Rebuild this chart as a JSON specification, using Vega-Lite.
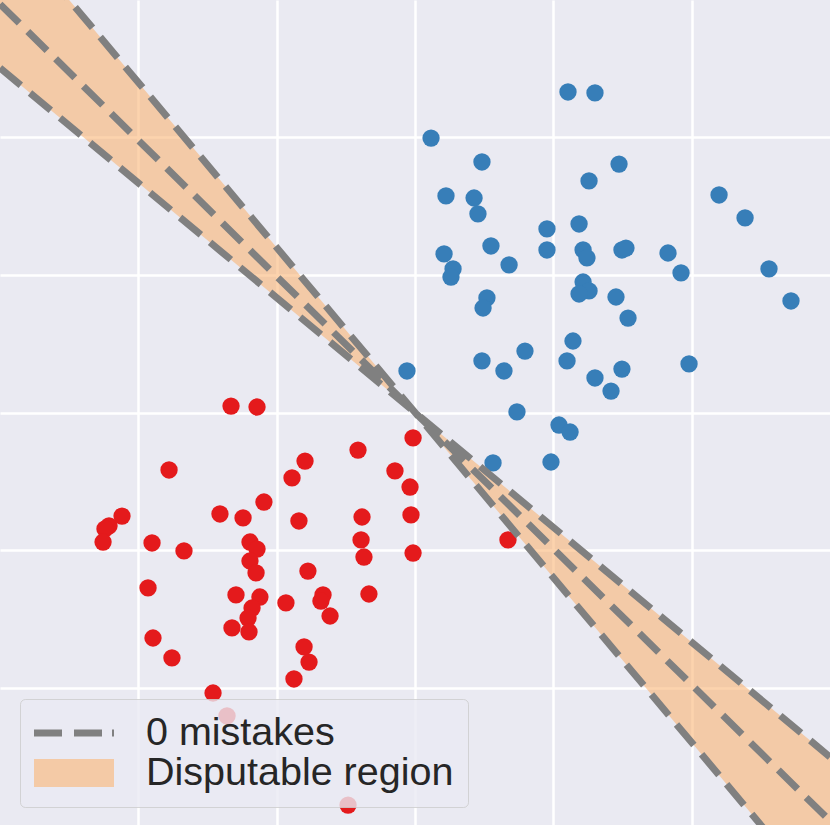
{
  "$schema": "https://vega.github.io/schema/vega-lite/v6.json",
  "width": 830,
  "height": 825,
  "autosize": {"type": "fit", "contains": "padding"},
  "padding": 0,
  "background": "#ffffff",
  "config": {
    "view": {"stroke": null, "fill": "#EAEAF2"},
    "axis": {"domain": false, "ticks": false, "labels": false, "title": null, "grid": true, "gridColor": "#ffffff", "gridWidth": 2.5, "gridOpacity": 1},
    "legend": {
      "title": null, "orient": "none", "legendX": 20, "legendY": 699,
      "fillColor": "rgba(234,234,242,0.8)", "strokeColor": "rgba(204,204,204,0.8)", "cornerRadius": 5, "padding": 14,
      "symbolSize": 1600, "symbolOpacity": 1, "symbolStrokeWidth": 0,
      "labelFontSize": 39.5, "labelFont": "Liberation Sans", "labelColor": "#262626",
      "labelOffset": 72, "labelLimit": 0, "rowPadding": -8
    }
  },
  "datasets": {
    "blue": [
      {"x": 1.106, "y": 2.331}, {"x": 1.301, "y": 2.324}, {"x": 0.116, "y": 1.996}, {"x": 0.484, "y": 1.822},
      {"x": 1.475, "y": 1.807}, {"x": 1.258, "y": 1.684}, {"x": 0.224, "y": 1.575}, {"x": 0.427, "y": 1.56},
      {"x": 2.198, "y": 1.582}, {"x": 0.455, "y": 1.444}, {"x": 2.386, "y": 1.415}, {"x": 1.186, "y": 1.371},
      {"x": 0.954, "y": 1.335}, {"x": 0.549, "y": 1.211}, {"x": 0.954, "y": 1.182}, {"x": 1.215, "y": 1.182},
      {"x": 1.243, "y": 1.124}, {"x": 0.21, "y": 1.153}, {"x": 1.496, "y": 1.182}, {"x": 1.525, "y": 1.196},
      {"x": 1.829, "y": 1.16}, {"x": 0.68, "y": 1.073}, {"x": 0.275, "y": 1.044}, {"x": 0.26, "y": 0.985},
      {"x": 1.923, "y": 1.015}, {"x": 2.559, "y": 1.044}, {"x": 1.215, "y": 0.949}, {"x": 1.258, "y": 0.884},
      {"x": 1.186, "y": 0.862}, {"x": 0.52, "y": 0.833}, {"x": 0.492, "y": 0.76}, {"x": 1.453, "y": 0.84},
      {"x": 2.718, "y": 0.811}, {"x": 1.54, "y": 0.687}, {"x": 1.142, "y": 0.52}, {"x": 0.795, "y": 0.447},
      {"x": 1.099, "y": 0.375}, {"x": 0.484, "y": 0.375}, {"x": 0.643, "y": 0.302}, {"x": -0.058, "y": 0.302},
      {"x": 1.496, "y": 0.316}, {"x": 1.981, "y": 0.353}, {"x": 1.301, "y": 0.251}, {"x": 1.417, "y": 0.156},
      {"x": 0.737, "y": 0.004}, {"x": 1.041, "y": -0.091}, {"x": 1.121, "y": -0.142}, {"x": 0.983, "y": -0.36},
      {"x": 0.564, "y": -0.367}
    ],
    "red": [
      {"x": -1.33, "y": 0.047}, {"x": -1.142, "y": 0.04}, {"x": -0.014, "y": -0.185}, {"x": -0.412, "y": -0.273},
      {"x": -0.795, "y": -0.353}, {"x": -1.778, "y": -0.418}, {"x": -0.145, "y": -0.425}, {"x": -0.889, "y": -0.476},
      {"x": -0.036, "y": -0.542}, {"x": -1.092, "y": -0.651}, {"x": -2.118, "y": -0.753}, {"x": -2.212, "y": -0.825},
      {"x": -2.241, "y": -0.847}, {"x": -2.255, "y": -0.942}, {"x": -1.41, "y": -0.738}, {"x": -1.243, "y": -0.767},
      {"x": -0.839, "y": -0.789}, {"x": -0.383, "y": -0.76}, {"x": -0.029, "y": -0.745}, {"x": -1.901, "y": -0.949},
      {"x": -1.67, "y": -1.007}, {"x": -1.193, "y": -0.942}, {"x": -1.142, "y": -0.993}, {"x": -0.39, "y": -0.927},
      {"x": -0.369, "y": -1.051}, {"x": -0.014, "y": -1.022}, {"x": 0.672, "y": -0.927}, {"x": -1.193, "y": -1.08},
      {"x": -1.149, "y": -1.167}, {"x": -0.774, "y": -1.153}, {"x": -1.93, "y": -1.276}, {"x": -1.294, "y": -1.327},
      {"x": -1.121, "y": -1.342}, {"x": -0.933, "y": -1.385}, {"x": -0.665, "y": -1.327}, {"x": -0.68, "y": -1.371},
      {"x": -0.333, "y": -1.32}, {"x": -1.178, "y": -1.422}, {"x": -1.207, "y": -1.495}, {"x": -1.323, "y": -1.567},
      {"x": -1.2, "y": -1.596}, {"x": -0.614, "y": -1.48}, {"x": -1.894, "y": -1.64}, {"x": -1.757, "y": -1.785},
      {"x": -0.802, "y": -1.705}, {"x": -0.766, "y": -1.815}, {"x": -0.875, "y": -1.938}, {"x": -1.46, "y": -2.04},
      {"x": -1.359, "y": -2.207}, {"x": -0.484, "y": -2.855}
    ],
    "region": [
      {"x": -3, "y": 3.6, "y2": 2.505},
      {"x": 0, "y": 0, "y2": 0},
      {"x": 3, "y": -3.6, "y2": -2.505}
    ],
    "lines": [
      {"line": "upper", "x": -3, "y": 3.6}, {"line": "upper", "x": 3, "y": -3.6},
      {"line": "middle", "x": -3, "y": 2.97}, {"line": "middle", "x": 3, "y": -2.97},
      {"line": "lower", "x": -3, "y": 2.505}, {"line": "lower", "x": 3, "y": -2.505}
    ],
    "legend": [
      {"item": "0 mistakes", "x": 0, "y": 0},
      {"item": "Disputable region", "x": 0, "y": 0}
    ]
  },
  "layer": [
    {
      "data": {"name": "region"},
      "mark": {"type": "area", "opacity": 0.55, "clip": true, "color": "#FAAE6A"},
      "encoding": {
        "x": {"field": "x", "type": "quantitative", "scale": {"domain": [-3, 3], "nice": false, "zero": false}, "axis": {"values": [-2, -1, 0, 1, 2]}},
        "y": {"field": "y", "type": "quantitative", "scale": {"domain": [-3, 3], "nice": false, "zero": false}, "axis": {"values": [-2, -1, 0, 1, 2]}},
        "y2": {"field": "y2"}
      }
    },
    {
      "data": {"name": "blue"},
      "mark": {"type": "circle", "size": 300, "opacity": 1, "color": "#377EB8"},
      "encoding": {
        "x": {"field": "x", "type": "quantitative"},
        "y": {"field": "y", "type": "quantitative"}
      }
    },
    {
      "data": {"name": "red"},
      "mark": {"type": "circle", "size": 300, "opacity": 1, "color": "#E41A1C"},
      "encoding": {
        "x": {"field": "x", "type": "quantitative"},
        "y": {"field": "y", "type": "quantitative"}
      }
    },
    {
      "data": {"name": "lines"},
      "mark": {"type": "line", "color": "#808080", "strokeWidth": 7, "strokeDash": [27, 12], "clip": true},
      "encoding": {
        "x": {"field": "x", "type": "quantitative"},
        "y": {"field": "y", "type": "quantitative"},
        "detail": {"field": "line"}
      }
    },
    {
      "data": {"name": "legend"},
      "mark": {"type": "point", "filled": true, "opacity": 0, "size": 0},
      "encoding": {
        "x": {"field": "x", "type": "quantitative"},
        "y": {"field": "y", "type": "quantitative"},
        "color": {
          "field": "item", "type": "nominal",
          "scale": {"domain": ["0 mistakes", "Disputable region"], "range": ["#808080", "#F4CAA6"]},
          "legend": {"title": null}
        },
        "shape": {
          "field": "item", "type": "nominal",
          "scale": {"domain": ["0 mistakes", "Disputable region"], "range": ["M-1,-0.175H0.4V0.175H-1Z M1,-0.175H2.4V0.175H1Z M2.9,-0.175H3V0.175H2.9Z", "M-1,-0.7H3V0.7H-1Z"]},
          "legend": {"title": null}
        }
      }
    }
  ]
}
